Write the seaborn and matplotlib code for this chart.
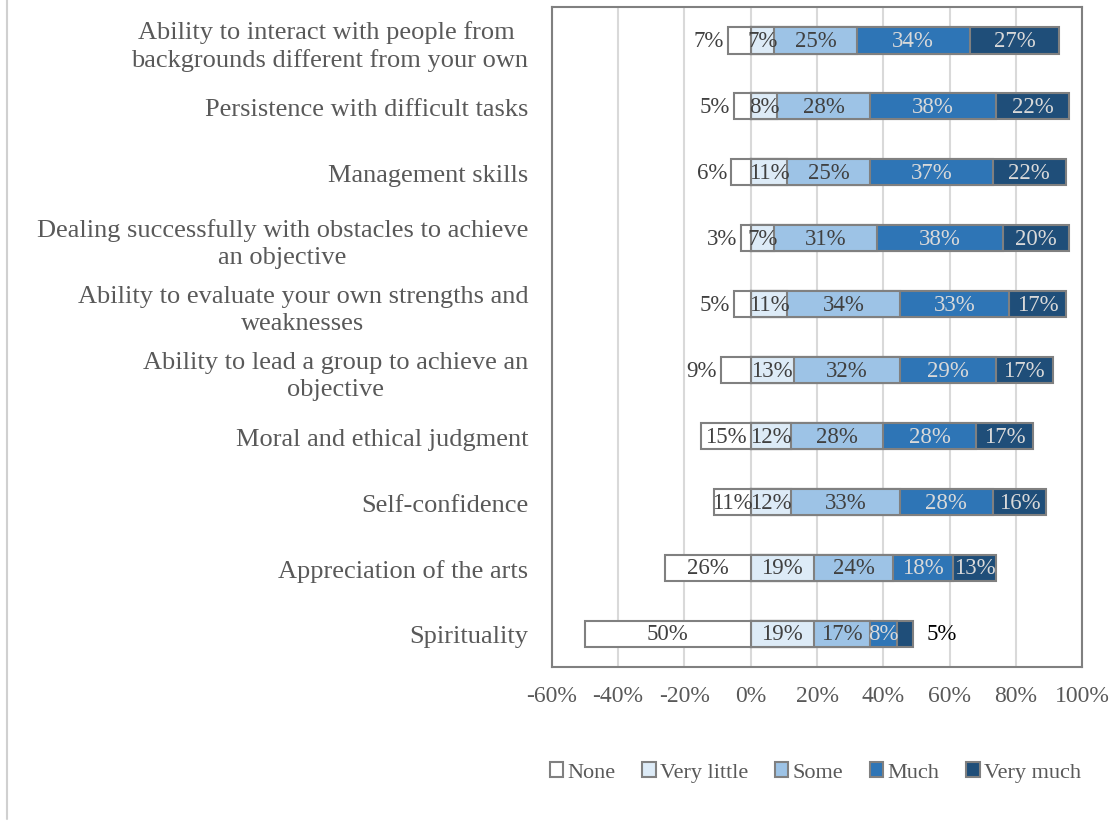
import matplotlib.pyplot as plt
import pandas as pd
import seaborn as sns
from matplotlib.patches import Patch
from matplotlib.lines import Line2D

sns.set_style('white')
plt.rcParams['font.family'] = ['Liberation Serif', 'DejaVu Serif']

# survey items, top to bottom
categories = [
    'Ability to interact with people from \nbackgrounds different from your own',
    'Persistence with difficult tasks',
    'Management skills',
    'Dealing successfully with obstacles to achieve\nan objective',
    'Ability to evaluate your own strengths and\nweaknesses',
    'Ability to lead a group to achieve an\nobjective',
    'Moral and ethical judgment',
    'Self-confidence',
    'Appreciation of the arts',
    'Spirituality',
]
none = [7, 5, 6, 3, 5, 9, 15, 11, 26, 50]
very_little = [7, 8, 11, 7, 11, 13, 12, 12, 19, 19]
some = [25, 28, 25, 31, 34, 32, 28, 33, 24, 17]
much = [34, 38, 37, 38, 33, 29, 28, 28, 18, 8]
very_much = [27, 22, 22, 20, 17, 17, 17, 16, 13, 5]

levels = ['None', 'Very little', 'Some', 'Much', 'Very much']
colors = ['#ffffff', '#ddebf7', '#9dc3e6', '#2e75b6', '#1f4e79']
label_colors = ['#404040', '#404040', '#404040', '#d9d9d9', '#d9d9d9']
edge = '#808080'

df = pd.DataFrame({'category': categories, 'None': none, 'Very little': very_little,
                   'Some': some, 'Much': much, 'Very much': very_much})
pos_levels = levels[1:]
cum = df[pos_levels].cumsum(axis=1)

fig = plt.figure(figsize=(11.17, 8.37), dpi=100)
ax = fig.add_axes([0.494, 0.202, 0.475, 0.788])

# positive side: draw cumulative totals largest first so smaller ones sit on top
for lvl, col in reversed(list(zip(pos_levels, colors[1:]))):
    sns.barplot(x=cum[lvl], y=df['category'], color=col, saturation=1, width=0.4,
                edgecolor=edge, linewidth=1.5, orient='h', ax=ax, zorder=3)
# negative side
sns.barplot(x=-df['None'], y=df['category'], color=colors[0], saturation=1, width=0.4,
            edgecolor=edge, linewidth=1.5, orient='h', ax=ax, zorder=3)

# data labels
fs = 16.5
for i in range(len(df)):
    v = df['None'][i]
    if v < 10:
        ax.text(-v - 1.2, i, f'{v}%', ha='right', va='center', fontsize=fs, color='#404040', zorder=4)
    else:
        ax.text(-v / 2, i, f'{v}%', ha='center', va='center', fontsize=fs, color='#404040', zorder=4)
    start = 0
    for j, lvl in enumerate(pos_levels):
        v = df[lvl][i]
        end = cum[lvl][i]
        if v <= 5:
            ax.text(end + 4, i, f'{v}%', ha='left', va='center', fontsize=fs, color='black', zorder=4)
        else:
            ax.text((start + end) / 2, i, f'{v}%', ha='center', va='center', fontsize=fs,
                    color=label_colors[j + 1], zorder=4)
        start = end

ax.set_xlim(-60, 100)
ax.set_xticks(range(-60, 101, 20))
ax.set_xticklabels([f'{t}%' for t in range(-60, 101, 20)])
ax.grid(axis='x', color='#d9d9d9', linewidth=1.5, zorder=0)
ax.set_axisbelow(True)
ax.set_xlabel('')
ax.set_ylabel('')
ax.tick_params(axis='both', length=0, colors='#595959')
ax.tick_params(axis='x', labelsize=17, pad=13)
ax.tick_params(axis='y', labelsize=19, pad=17)
for lab in ax.get_yticklabels():
    lab.set_multialignment('center')
    lab.set_linespacing(1.3)
for s in ax.spines.values():
    s.set_color('#808080')
    s.set_linewidth(1.5)

handles = [Patch(facecolor=c, edgecolor=edge, linewidth=1.5) for c in colors]
fig.legend(handles, levels, loc='center', bbox_to_anchor=(0.73, 0.076), ncol=5, frameon=False,
           fontsize=16, handlelength=0.6, handleheight=0.6, handletextpad=0.2, columnspacing=1.2,
           labelcolor='#595959')

# outer chart border on the left
fig.add_artist(Line2D([7 / 1117, 7 / 1117], [0.02, 1.0], color='#d0d0d0', linewidth=1.5))

fig.savefig('out.png', dpi=100)
